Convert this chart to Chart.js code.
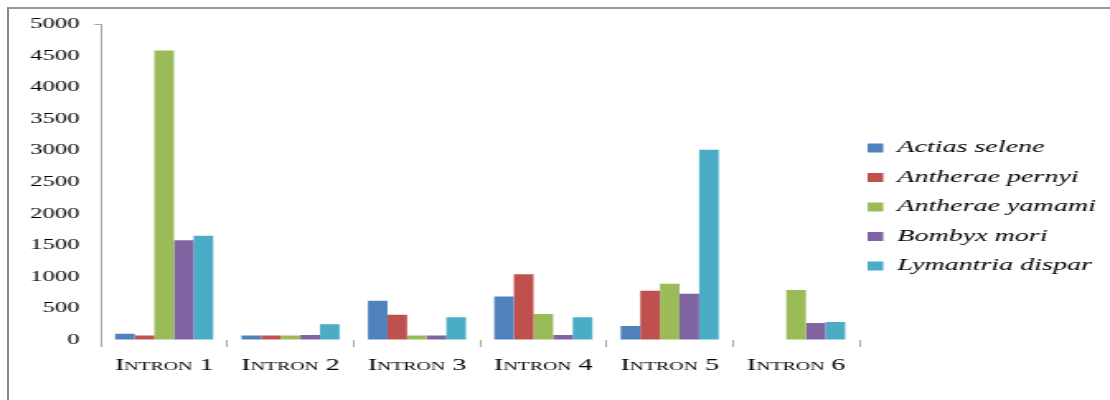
<!DOCTYPE html>
<html>
<head>
<meta charset="utf-8">
<script src="https://cdn.jsdelivr.net/npm/chart.js@4/dist/chart.umd.min.js"></script>
<style>
  html, body { margin: 0; padding: 0; background: #ffffff; }
  body { width: 1110px; height: 400px; position: relative; overflow: hidden; }
  #frame {
    position: absolute; left: 7px; top: 7px; right: -4px; bottom: -4px;
    border-left: 2px solid #858585; border-top: 2px solid #9a9a9a;
  }
  /* the chart is laid out narrow and stretched wide, giving the broad lettering */
  #c {
    position: absolute; left: 0; top: 0;
    width: 673px; height: 400px;
    transform: scaleX(1.6493); transform-origin: 0 0;
  }
</style>
</head>
<body>
<div id="frame"></div>
<canvas id="c" width="673" height="400"></canvas>
<script>
const introns = ['Intron 1', 'Intron 2', 'Intron 3', 'Intron 4', 'Intron 5', 'Intron 6'];

const actiasSelene     = [100,  70, 620,  690,  220,   0];
const antheraePernyi   = [ 70,  70, 400, 1040,  780,   0];
const antheraeYamami   = [4580, 70,  70,  410,  890, 790];
const bombyxMori       = [1580, 80,  70,   80,  730, 270];
const lymantriaDispar  = [1650, 250, 360, 360, 3010, 285];

const speciesNames  = ['Actias selene', 'Antherae pernyi', 'Antherae yamami', 'Bombyx mori', 'Lymantria dispar'];
const speciesColors = ['#4F81BD', '#C0504D', '#9BBB59', '#8064A2', '#4BACC6'];
const yTicks = [0, 500, 1000, 1500, 2000, 2500, 3000, 3500, 4000, 4500, 5000];

const seriesValues = [actiasSelene, antheraePernyi, antheraeYamami, bombyxMori, lymantriaDispar];

const serif = "'Liberation Serif', 'Times New Roman', serif";
const axisGrey = '#a6a6a6';

// Puts the legend column beside the plot, starting just below the top,
// and lets its labels run to the right edge.
const legendPlacement = {
  id: 'legendPlacement',
  afterLayout(chart) {
    const lg = chart.legend;
    if (!lg) return;
    const pad = lg.options.labels.padding;
    lg.left = chart.chartArea.right + 5 - pad;
    lg.right = chart.width;
    lg.width = lg.right - lg.left;
    lg.top = 127;
    lg.bottom = lg.top + lg.height;
  }
};

new Chart(document.getElementById('c'), {
  type: 'bar',
  data: {
    labels: introns,
    datasets: speciesNames.map((name, i) => ({
      label: name,
      data: seriesValues[i],
      backgroundColor: speciesColors[i],
      borderWidth: 0,
      categoryPercentage: 0.776,
      barPercentage: 1.0
    }))
  },
  options: {
    responsive: false,
    devicePixelRatio: 1,
    animation: false,
    layout: { padding: { top: 24, right: 12, bottom: 0, left: 0 } },
    plugins: {
      tooltip: { enabled: false },
      legend: {
        position: 'right',
        align: 'start',
        maxWidth: 140,
        labels: {
          boxWidth: 9.5,
          boxHeight: 9,
          padding: 12.5,
          color: '#000000',
          font: { family: serif, size: 17, style: 'italic' }
        }
      }
    },
    scales: {
      x: {
        grid: {
          offset: true,
          drawOnChartArea: false,
          drawTicks: true,
          tickLength: 7,
          color: axisGrey,
          lineWidth: 1
        },
        border: { display: false },
        ticks: {
          padding: 8,
          color: '#000000',
          maxRotation: 0,
          font: { family: serif, size: 17, weight: 'small-caps' }
        },
        afterFit(scale) { scale.height = 60; }
      },
      y: {
        min: 0,
        max: 5000,
        afterBuildTicks(scale) { scale.ticks = yTicks.map(v => ({ value: v })); },
        grid: {
          drawOnChartArea: false,
          drawTicks: true,
          tickLength: 4,
          tickColor: ctx => (ctx.tick && ctx.tick.value === 5000 ? axisGrey : 'rgba(0,0,0,0)')
        },
        border: { display: true, color: axisGrey, width: 1 },
        ticks: {
          padding: 9,
          color: '#000000',
          font: { family: serif, size: 15 },
          callback: v => String(v)
        },
        afterFit(scale) { scale.width = 61.2; }
      }
    }
  },
  plugins: [legendPlacement]
});
</script>
</body>
</html>
